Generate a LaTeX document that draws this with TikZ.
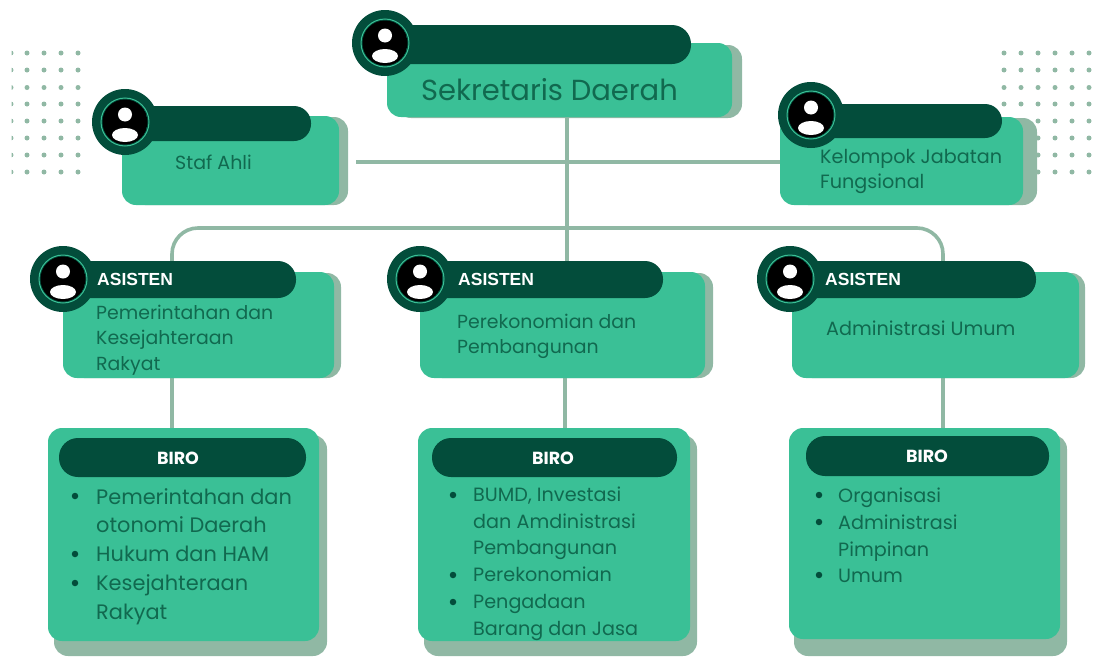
\documentclass[tikz,border=0pt]{standalone}
\usepackage{fontspec}
\setmainfont{Poppins}
\newfontfamily\headfont{Liberation Sans}
\usetikzlibrary{backgrounds}
\definecolor{cardgreen}{HTML}{3AC096}
\definecolor{shadowgreen}{HTML}{90B8A4}
\definecolor{bardark}{HTML}{034D3B}
\definecolor{bodytext}{HTML}{11694F}
\tikzset{
  cardbox/.style={fill=cardgreen,rounded corners=14pt,inner sep=0pt},
  shadowbox/.style={fill=shadowgreen,rounded corners=14pt,inner sep=0pt},
  pillbar/.style={fill=bardark,rounded corners=17pt,inner sep=0pt},
  conn/.style={draw=shadowgreen,line width=3.6pt},
  bodylabel/.style={text=bodytext,inner sep=0pt,align=left},
  headlabel/.style={text=white,inner sep=0pt,font=\headfont\bfseries\fontsize{17.5}{20}\selectfont},
  birolabel/.style={text=white,inner sep=0pt,font=\bfseries\fontsize{17.5}{20}\selectfont},
  dotmark/.style={fill=shadowgreen,circle,inner sep=0pt,minimum size=5pt},
  bulletmark/.style={fill=bardark,circle,inner sep=0pt,minimum size=6.5pt},
  avatar/.pic={
    \fill[bardark] (0,0) circle (33);
    \draw[cardgreen,line width=1pt] (0,0) circle (24);
    \begin{scope}
      \clip (0,0) circle (22.5);
      \fill[black] (0,0) circle (22.5);
      \fill[white] (0,-7.5) circle (7);
      \fill[white] (0,13) ellipse (13 and 7);
    \end{scope}
  }
}
% name, x1, y1, x2, y2, style
\newcommand{\pxbox}[6]{%
  \pgfmathsetmacro{\bw}{#4-#2}\pgfmathsetmacro{\bh}{#5-#3}%
  \pgfmathsetmacro{\bx}{(#2+#4)/2}\pgfmathsetmacro{\by}{(#3+#5)/2}%
  \node[#6,minimum width=\bw pt,minimum height=\bh pt] (#1) at (\bx,\by) {};}
\begin{document}
\begin{tikzpicture}[x=1pt,y=-1pt]
\useasboundingbox (0,0) rectangle (1100,656);
% top cards
\pxbox{sekS}{397}{45}{742}{118}{shadowbox}
\pxbox{sek}{387}{43}{732}{117}{cardbox}
\pxbox{sekB}{385}{25}{691}{64}{pillbar,rounded corners=19pt}
\pic at (385,43) {avatar};
\node[bodylabel,font=\fontsize{29}{34}\selectfont] (sekT) at (549.5,89.5) {Sekretaris Daerah};
\pxbox{stafS}{131}{117}{348}{205}{shadowbox}
\pxbox{staf}{122}{116}{339}{205}{cardbox}
\pxbox{stafB}{125}{106}{311}{141}{pillbar}
\pic at (125,122) {avatar};
\node[bodylabel,font=\fontsize{19}{22}\selectfont] (stafT) at (213.5,162) {Staf Ahli};
\pxbox{kelS}{794}{118}{1037}{205}{shadowbox}
\pxbox{kel}{780}{117}{1023}{205}{cardbox}
\pxbox{kelB}{811}{104}{1002}{138}{pillbar}
\pic at (811,115) {avatar};
\node[bodylabel,anchor=west,font=\fontsize{19.2}{25}\selectfont] (kelT) at (820,171) {Kelompok Jabatan\\Fungsional};
% assistants
\pxbox{asaS}{70}{273}{341}{378}{shadowbox}
\pxbox{asa}{63}{272}{334}{378}{cardbox}
\pxbox{asaB}{63}{261}{296}{298}{pillbar,rounded corners=18pt}
\pic at (63,279) {avatar};
\node[headlabel,anchor=west] (asaH) at (97,279.5) {ASISTEN};
\node[bodylabel,anchor=west,font=\fontsize{18.9}{25.5}\selectfont] (asaT) at (96,340) {Pemerintahan dan\\Kesejahteraan\\Rakyat};
\pxbox{asbS}{428}{273}{713}{378}{shadowbox}
\pxbox{asb}{420}{272}{705}{378}{cardbox}
\pxbox{asbB}{420}{261}{663}{298}{pillbar,rounded corners=18pt}
\pic at (420,279) {avatar};
\node[headlabel,anchor=west] (asbH) at (458,279.5) {ASISTEN};
\node[bodylabel,anchor=west,font=\fontsize{18.9}{25}\selectfont] (asbT) at (457,336.5) {Perekonomian dan\\Pembangunan};
\pxbox{ascS}{798}{273}{1085}{378}{shadowbox}
\pxbox{asc}{792}{272}{1079}{378}{cardbox}
\pxbox{ascB}{790}{261}{1036}{298}{pillbar,rounded corners=18pt}
\pic at (790,279) {avatar};
\node[headlabel,anchor=west] (ascH) at (825,279.5) {ASISTEN};
\node[bodylabel,anchor=west,font=\fontsize{19.2}{25}\selectfont] (ascT) at (826,328.5) {Administrasi Umum};
% biro cards
\pxbox{biaS}{54}{435}{327}{656}{shadowbox}
\pxbox{bia}{48}{428}{319}{641}{cardbox}
\pxbox{biaB}{59}{438}{306}{477}{pillbar,rounded corners=19pt}
\node[birolabel] (biaH) at (178,458) {BIRO};
\node[bodylabel,anchor=west,font=\fontsize{20.9}{28.8}\selectfont] (biaT) at (96,556.5) {Pemerintahan dan\\otonomi Daerah\\Hukum dan HAM\\Kesejahteraan\\Rakyat};
\foreach \yy in {496,554,583} \node[bulletmark] at (75,\yy) {};
\pxbox{bibS}{424}{435}{697}{656}{shadowbox}
\pxbox{bib}{418}{428}{690}{641}{cardbox}
\pxbox{bibB}{432}{438}{677}{477}{pillbar,rounded corners=19pt}
\node[birolabel] (bibH) at (553,458) {BIRO};
\node[bodylabel,anchor=west,font=\fontsize{19.2}{26.8}\selectfont] (bibT) at (473,563.5) {BUMD, Investasi\\dan Amdinistrasi\\Pembangunan\\Perekonomian\\Pengadaan\\Barang dan Jasa};
\foreach \yy in {495,575,602} \node[bulletmark] at (453,\yy) {};
\pxbox{bicS}{794}{435}{1067}{656}{shadowbox}
\pxbox{bic}{789}{428}{1060}{639}{cardbox}
\pxbox{bicB}{806}{436}{1049}{476}{pillbar,rounded corners=19pt}
\node[birolabel] (bicH) at (927,456) {BIRO};
\node[bodylabel,anchor=west,font=\fontsize{19.2}{26.8}\selectfont] (bicT) at (838,535.5) {Organisasi\\Administrasi\\Pimpinan\\Umum};
\foreach \yy in {495,522,575} \node[bulletmark] at (819,\yy) {};
% connectors and dots
\begin{scope}[on background layer]
  \coordinate (trunk) at (567,0);
  \coordinate (leftend) at (356,162);
  \coordinate (xa) at (172,0);
  \coordinate (xb) at (565,0);
  \coordinate (xc) at (943,0);
  \coordinate (railY) at (0,228);
  \draw[conn] (trunk |- sek.south) -- (trunk |- asbB.north);
  \draw[conn] (leftend) -- (leftend -| kel.west);
  \draw[conn,rounded corners=26pt] (xa |- asaB.north) -- (xa |- railY) -- (xc |- railY) -- (xc |- ascB.north);
  \draw[conn] (xa |- asa.south) -- (xa |- bia.north);
  \draw[conn] (xb |- asb.south) -- (xb |- bib.north);
  \draw[conn] (xc |- asc.south) -- (xc |- bic.north);
  \foreach \yy in {53,70,87.5,104,121,138,155,172} {
    \begin{scope}
      \clip (11.5,0) rectangle (90,200);
      \foreach \xx in {11,27,44,61,78} \node[dotmark] at (\xx,\yy) {};
    \end{scope}
    \foreach \xx in {1004,1021,1038,1055,1072,1089} \node[dotmark] at (\xx,\yy) {};
  }
\end{scope}
\end{tikzpicture}
\end{document}
